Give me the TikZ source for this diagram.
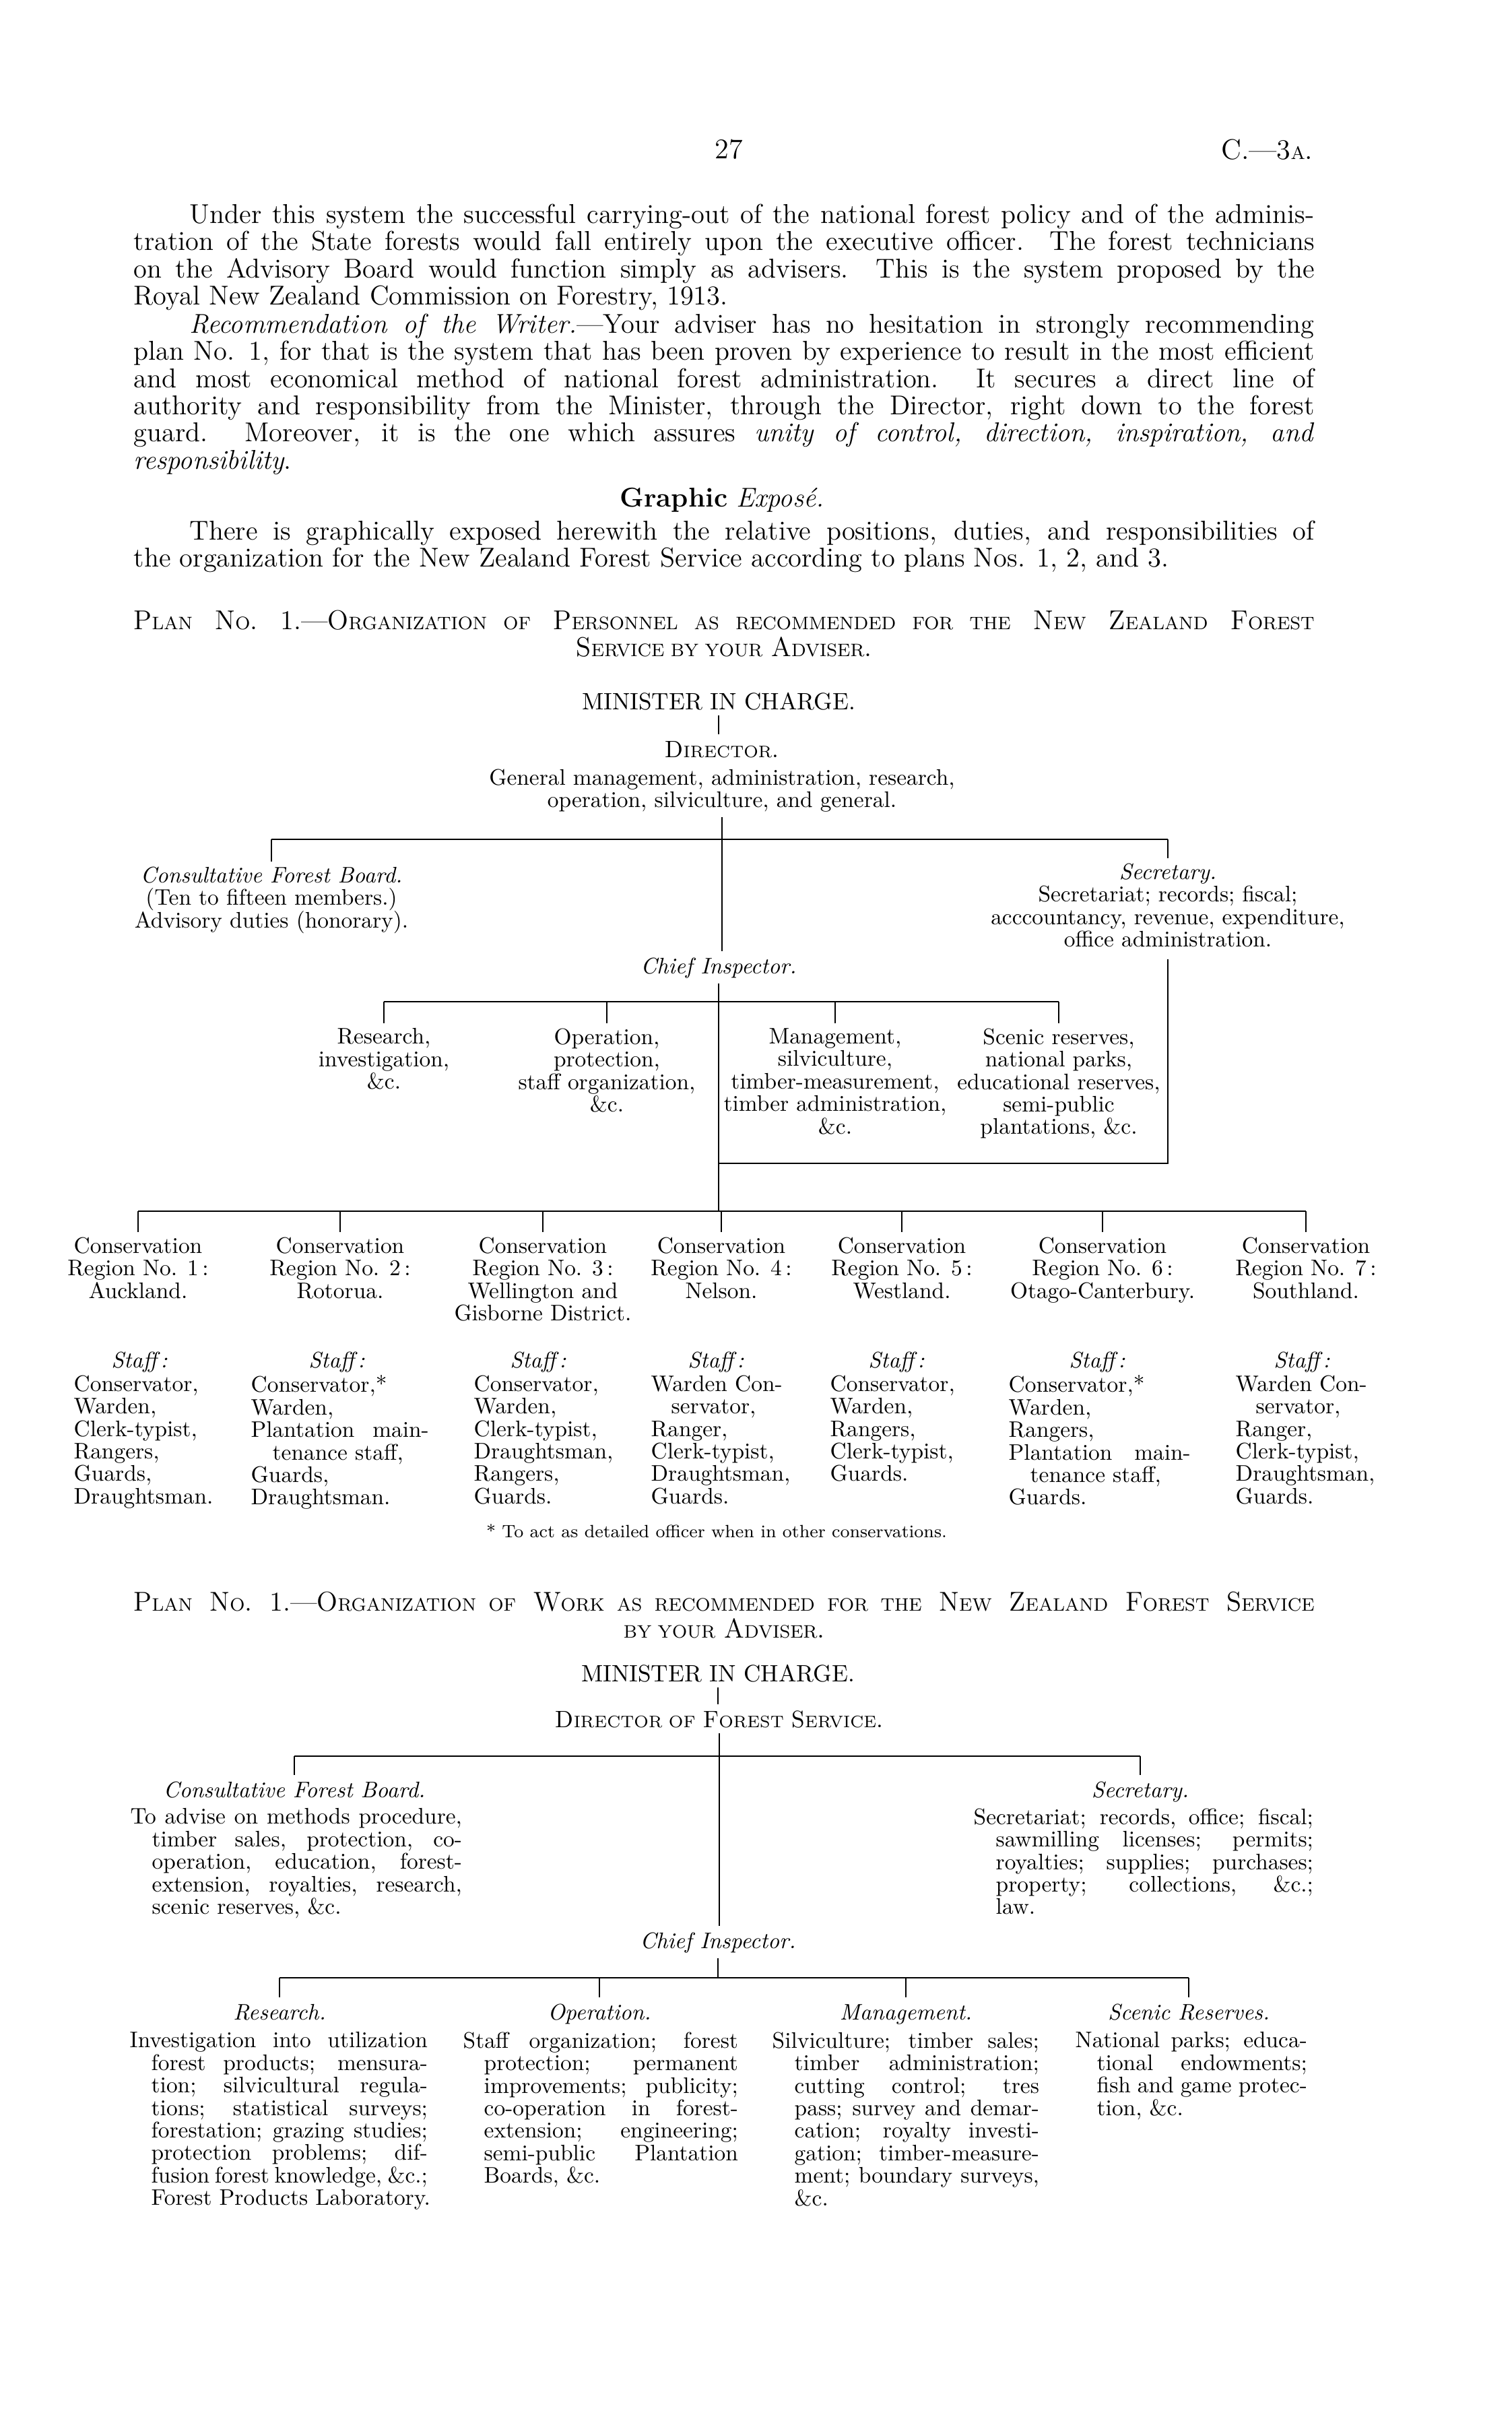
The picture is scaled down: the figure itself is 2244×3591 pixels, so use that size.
\documentclass[tikz,border=0pt]{standalone}
\newcommand{\sct}[1]{{\fontsize{7.6}{7.6}\selectfont #1}}
\newcommand{\sctd}[1]{{\fontsize{7}{7}\selectfont #1}}
\newcommand{\spread}[2]{\makebox[#1][s]{#2}}
\newcommand{\up}{\rule{0pt}{0.76em}}
\begin{document}
\begin{tikzpicture}[x=0.01cm, y=-0.01cm,
    pagetext/.style={font=\fontsize{11.5}{11.5}\selectfont, inner sep=0pt, align=left, anchor=north west, execute at begin node=\up},
    headtext/.style={font=\fontsize{10}{10}\selectfont, inner sep=0pt, anchor=north, execute at begin node=\up},
    chart/.style={font=\fontsize{9.5}{9.5}\selectfont, inner sep=0pt, align=center, anchor=north, execute at begin node=\up},
    staff/.style={font=\fontsize{9.5}{9.5}\selectfont, inner sep=0pt, align=left, anchor=north west, execute at begin node=\up},
    bus/.style={line width=0.7pt},
    stem/.style={line width=0.7pt, shorten <=2pt},
    drop/.style={line width=0.7pt, shorten >=2pt},
    link/.style={line width=0.7pt, shorten <=2pt, shorten >=2pt}]

    \fill[white] (0,0) rectangle (2244,3591);

    % page head and text
    \node[font=\fontsize{12}{12}\selectfont, inner sep=0pt] (pagenum) at (1082,222) {27};
    \node[font=\fontsize{12}{12}\selectfont, inner sep=0pt, anchor=east] (docref) at (1950,222) {C.---3\sct{A}.};

    \node[pagetext] (para1) at (198,302) {\hspace*{0.83cm}\spread{16.69cm}{Under this system the successful carrying-out of the national forest policy and of the adminis-}\\
        \spread{17.52cm}{tration of the State forests would fall entirely upon the executive officer.\ \ The forest technicians}\\
        \spread{17.52cm}{on the Advisory Board would function simply as advisers.\ \ This is the system proposed by the}\\
        Royal New Zealand Commission on Forestry, 1913.};
    \node[pagetext] (para2) at (198,465) {\hspace*{0.83cm}\spread{16.69cm}{\textit{Recommendation of the Writer.}---Your adviser has no hesitation in strongly recommending}\\
        \spread{17.52cm}{plan No. 1, for that is the system that has been proven by experience to result in the most efficient}\\
        \spread{17.52cm}{and most economical method of national forest administration.\ \ It secures a direct line of}\\
        \spread{17.52cm}{authority and responsibility from the Minister, through the Director, right down to the forest}\\
        \spread{17.52cm}{guard.\ \ Moreover, it is the one which assures \textit{unity of control, direction, inspiration, and}}\\
        \textit{responsibility}.};
    \node[font=\fontsize{11.5}{11.5}\selectfont, inner sep=0pt] (graphic) at (1072,742) {\textbf{Graphic} \textit{Exposé.}};
    \node[pagetext] (para3) at (198,772) {\hspace*{0.83cm}\spread{16.69cm}{There is graphically exposed herewith the relative positions, duties, and responsibilities of}\\
        the organization for the New Zealand Forest Service according to plans Nos. 1, 2, and 3.};

    % plan of personnel
    \node[pagetext] (head1) at (198,905) {\spread{17.52cm}{P\sct{LAN} N\sct{O}. 1.---O\sct{RGANIZATION OF} P\sct{ERSONNEL AS RECOMMENDED FOR THE} N\sct{EW} Z\sct{EALAND} F\sct{OREST}}\\
        \makebox[17.52cm]{S\sct{ERVICE BY YOUR} A\sct{DVISER}.}};
    \node[headtext] (minister1) at (1067,1026) {MINISTER IN CHARGE.};
    \node[headtext] (director1) at (1072,1097) {D\sctd{IRECTOR}.};
    \node[chart] (duties1) at (1072,1141) {General management, administration, research,\\operation, silviculture, and general.};
    \node[chart] (board1) at (403,1286) {\textit{Consultative Forest Board.}\\(Ten to fifteen members.)\\Advisory duties (honorary).};
    \node[chart] (secretary1) at (1734,1281) {\textit{Secretary.}\\Secretariat; records; fiscal;\\acccountancy, revenue, expenditure,\\office administration.};
    \node[chart] (chief1) at (1067,1419) {\textit{Chief Inspector.}};
    \node[chart] (research1) at (570,1526) {Research,\\investigation,\\\&c.};
    \node[chart] (operation1) at (901,1526) {Operation,\\protection,\\staff organization,\\\&c.};
    \node[chart] (management1) at (1240,1526) {Management,\\silviculture,\\timber-measurement,\\timber administration,\\\&c.};
    \node[chart] (scenic1) at (1572,1526) {Scenic reserves,\\national parks,\\educational reserves,\\semi-public\\plantations, \&c.};

    \node[chart] (region1) at (205,1836) {Conservation\\Region No. 1\,:\\Auckland.};
    \node[chart] (region2) at (505,1836) {Conservation\\Region No. 2\,:\\Rotorua.};
    \node[chart] (region3) at (806,1836) {Conservation\\Region No. 3\,:\\Wellington and\\Gisborne District.};
    \node[chart] (region4) at (1071,1836) {Conservation\\Region No. 4\,:\\Nelson.};
    \node[chart] (region5) at (1339,1836) {Conservation\\Region No. 5\,:\\Westland.};
    \node[chart] (region6) at (1637,1836) {Conservation\\Region No. 6\,:\\Otago-Canterbury.};
    \node[chart] (region7) at (1939,1836) {Conservation\\Region No. 7\,:\\Southland.};

    \node[chart] (staffhead1) at (207,2004) {\textit{Staff\,:}};
    \node[chart] (staffhead2) at (500,2004) {\textit{Staff\,:}};
    \node[chart] (staffhead3) at (799,2004) {\textit{Staff\,:}};
    \node[chart] (staffhead4) at (1063,2004) {\textit{Staff\,:}};
    \node[chart] (staffhead5) at (1331,2004) {\textit{Staff\,:}};
    \node[chart] (staffhead6) at (1629,2004) {\textit{Staff\,:}};
    \node[chart] (staffhead7) at (1933,2004) {\textit{Staff\,:}};

    \node[staff] (staff1) at (109,2041) {Conservator,\\Warden,\\Clerk-typist,\\Rangers,\\Guards,\\Draughtsman.};
    \node[staff] (staff2) at (372,2041) {Conservator,*\\Warden,\\\spread{2.64cm}{Plantation main-}\\\hspace*{0.32cm}tenance staff,\\Guards,\\Draughtsman.};
    \node[staff] (staff3) at (703,2041) {Conservator,\\Warden,\\Clerk-typist,\\Draughtsman,\\Rangers,\\Guards.};
    \node[staff] (staff4) at (966,2041) {Warden Con-\\\hspace*{0.3cm}servator,\\Ranger,\\Clerk-typist,\\Draughtsman,\\Guards.};
    \node[staff] (staff5) at (1232,2041) {Conservator,\\Warden,\\Rangers,\\Clerk-typist,\\Guards.};
    \node[staff] (staff6) at (1497,2041) {Conservator,*\\Warden,\\Rangers,\\\spread{2.70cm}{Plantation main-}\\\hspace*{0.32cm}tenance staff,\\Guards.};
    \node[staff] (staff7) at (1834,2041) {Warden Con-\\\hspace*{0.3cm}servator,\\Ranger,\\Clerk-typist,\\Draughtsman,\\Guards.};
    \node[font=\fontsize{7.5}{7.5}\selectfont, inner sep=0pt] (note1) at (1064,2273) {* To act as detailed officer when in other conservations.};

    \draw[link] (minister1.south) -- (minister1.south |- director1.north);
    \coordinate (bar1) at (1072,1246);
    \draw[stem] (duties1.south) -- (duties1.south |- bar1);
    \draw[bus] (board1.north |- bar1) -- (secretary1.north |- bar1);
    \draw[drop] (board1.north |- bar1) -- (board1.north);
    \draw[drop] (secretary1.north |- bar1) -- (secretary1.north);
    \draw[drop] (bar1) -- (bar1 |- chief1.north);
    \coordinate (sbar1) at (1067,1487);
    \coordinate (cline1) at (1067,1727);
    \coordinate (rbar1) at (1067,1798);
    \draw[stem] (chief1.south) -- (rbar1);
    \draw[bus] (research1.north |- sbar1) -- (scenic1.north |- sbar1);
    \draw[drop] (research1.north |- sbar1) -- (research1.north);
    \draw[drop] (operation1.north |- sbar1) -- (operation1.north);
    \draw[drop] (management1.north |- sbar1) -- (management1.north);
    \draw[drop] (scenic1.north |- sbar1) -- (scenic1.north);
    \draw[bus, shorten <=5pt] (secretary1.south) |- (cline1);
    \draw[bus] (region1.north |- rbar1) -- (region7.north |- rbar1);
    \draw[drop] (region1.north |- rbar1) -- (region1.north);
    \draw[drop] (region2.north |- rbar1) -- (region2.north);
    \draw[drop] (region3.north |- rbar1) -- (region3.north);
    \draw[drop] (region4.north |- rbar1) -- (region4.north);
    \draw[drop] (region5.north |- rbar1) -- (region5.north);
    \draw[drop] (region6.north |- rbar1) -- (region6.north);
    \draw[drop] (region7.north |- rbar1) -- (region7.north);

    % plan of work
    \node[pagetext] (head2) at (198,2362) {\spread{17.52cm}{P\sct{LAN} N\sct{O}. 1.---O\sct{RGANIZATION OF} W\sct{ORK AS RECOMMENDED FOR THE} N\sct{EW} Z\sct{EALAND} F\sct{OREST} S\sct{ERVICE}}\\
        \makebox[17.52cm]{\sct{BY YOUR} A\sct{DVISER}.}};
    \node[headtext] (minister2) at (1066,2469) {MINISTER IN CHARGE.};
    \node[headtext] (director2) at (1068,2537) {D\sctd{IRECTOR OF} F\sctd{OREST} S\sctd{ERVICE}.};
    \node[chart] (board2) at (437,2642) {\textit{Consultative Forest Board.}};
    \node[staff] (boardduties2) at (193,2684) {\spread{4.92cm}{To advise on methods procedure,}\\
        \hspace*{0.32cm}\spread{4.60cm}{timber sales, protection, co-}\\
        \hspace*{0.32cm}\spread{4.60cm}{operation, education, forest-}\\
        \hspace*{0.32cm}\spread{4.60cm}{extension, royalties, research,}\\
        \hspace*{0.32cm}scenic reserves, \&c.};
    \node[chart] (secretary2) at (1693,2642) {\textit{Secretary.}};
    \node[staff] (secduties2) at (1445,2684) {\spread{5.04cm}{Secretariat; records, office; fiscal;}\\
        \hspace*{0.33cm}\spread{4.71cm}{sawmilling licenses; permits;}\\
        \hspace*{0.33cm}\spread{4.71cm}{royalties; supplies; purchases;}\\
        \hspace*{0.33cm}\spread{4.71cm}{property; collections, \&c.;}\\
        \hspace*{0.33cm}law.};
    \node[chart] (chief2) at (1066,2866) {\textit{Chief Inspector.}};
    \node[chart] (research2) at (415,2972) {\textit{Research.}};
    \node[chart] (operation2) at (890,2972) {\textit{Operation.}};
    \node[chart] (management2) at (1345,2972) {\textit{Management.}};
    \node[chart] (scenic2) at (1765,2972) {\textit{Scenic Reserves.}};
    \node[staff] (researchwork2) at (192,3016) {\spread{4.42cm}{Investigation into utilization}\\
        \hspace*{0.32cm}\spread{4.10cm}{forest products; mensura-}\\
        \hspace*{0.32cm}\spread{4.10cm}{tion; silvicultural regula-}\\
        \hspace*{0.32cm}\spread{4.10cm}{tions; statistical surveys;}\\
        \hspace*{0.32cm}\spread{4.10cm}{forestation; grazing studies;}\\
        \hspace*{0.32cm}\spread{4.10cm}{protection problems; dif-}\\
        \hspace*{0.32cm}\spread{4.10cm}{fusion forest knowledge, \&c.;}\\
        \hspace*{0.32cm}Forest Products Laboratory.};
    \node[staff] (operationwork2) at (687,3016) {\spread{4.08cm}{Staff organization; forest}\\
        \hspace*{0.31cm}\spread{3.77cm}{protection; permanent}\\
        \hspace*{0.31cm}\spread{3.77cm}{improvements; publicity;}\\
        \hspace*{0.31cm}\spread{3.77cm}{co-operation in forest-}\\
        \hspace*{0.31cm}\spread{3.77cm}{extension; engineering;}\\
        \hspace*{0.31cm}\spread{3.77cm}{semi-public Plantation}\\
        \hspace*{0.31cm}Boards, \&c.};
    \node[staff] (managementwork2) at (1146,3016) {\spread{3.96cm}{Silviculture; timber sales;}\\
        \hspace*{0.33cm}\spread{3.63cm}{timber administration;}\\
        \hspace*{0.33cm}\spread{3.63cm}{cutting control; tres}\\
        \hspace*{0.33cm}\spread{3.63cm}{pass; survey and demar-}\\
        \hspace*{0.33cm}\spread{3.63cm}{cation; royalty investi-}\\
        \hspace*{0.33cm}\spread{3.63cm}{gation; timber-measure-}\\
        \hspace*{0.33cm}\spread{3.63cm}{ment; boundary surveys,}\\
        \hspace*{0.33cm}\&c.};
    \node[staff] (scenicwork2) at (1596,3016) {\spread{3.44cm}{National parks; educa-}\\
        \hspace*{0.32cm}\spread{3.12cm}{tional endowments;}\\
        \hspace*{0.32cm}\spread{3.12cm}{fish and game protec-}\\
        \hspace*{0.32cm}tion, \&c.};

    \draw[link] (minister2.south) -- (minister2.south |- director2.north);
    \coordinate (bar2) at (1068,2607);
    \draw[stem] (director2.south) -- (bar2);
    \draw[bus] (board2.north |- bar2) -- (secretary2.north |- bar2);
    \draw[drop] (board2.north |- bar2) -- (board2.north);
    \draw[drop] (secretary2.north |- bar2) -- (secretary2.north);
    \draw[drop] (bar2) -- (bar2 |- chief2.north);
    \coordinate (bar3) at (1066,2936);
    \draw[stem] (chief2.south) -- (bar3);
    \draw[bus] (research2.north |- bar3) -- (scenic2.north |- bar3);
    \draw[drop] (research2.north |- bar3) -- (research2.north);
    \draw[drop] (operation2.north |- bar3) -- (operation2.north);
    \draw[drop] (management2.north |- bar3) -- (management2.north);
    \draw[drop] (scenic2.north |- bar3) -- (scenic2.north);
\end{tikzpicture}
\end{document}
